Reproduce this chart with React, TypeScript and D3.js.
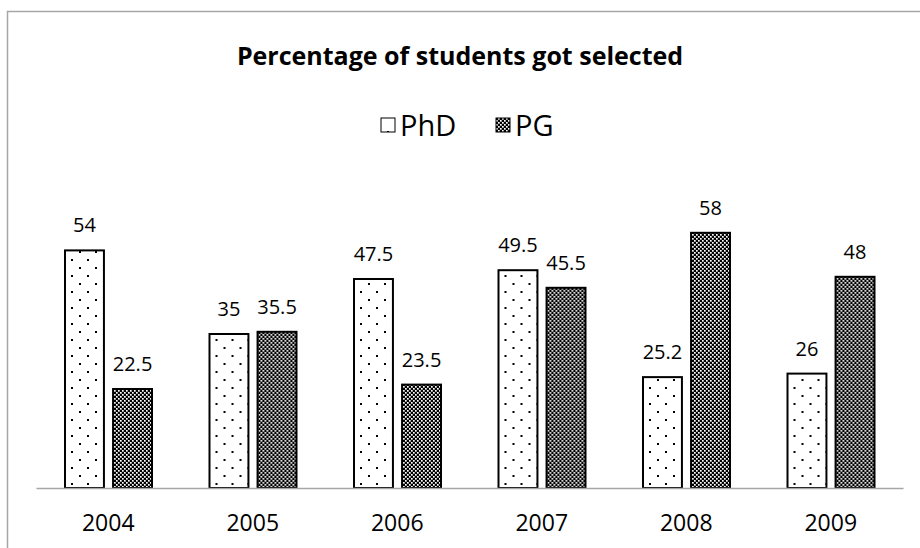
import { useEffect, useRef } from 'react';
import * as d3 from 'd3';

const years = ['2004', '2005', '2006', '2007', '2008', '2009'];
const phd = [54, 35, 47.5, 49.5, 25.2, 26];
const pg = [22.5, 35.5, 23.5, 45.5, 58, 48];
const seriesNames = ['PhD', 'PG'];

const App = () => {
	const ref = useRef<SVGSVGElement>(null);

	useEffect(() => {
		const width = 920,
			height = 548;
		const margin = { top: 180, right: 17, bottom: 60, left: 36 };
		const font = 'Open Sans, sans-serif';

		const svg = d3.select(ref.current).attr('width', width).attr('height', height);
		svg.selectAll('*').remove();

		const defs = svg.append('defs');
		// dotted pattern for PhD
		const dots = defs
			.append('pattern')
			.attr('id', 'dots')
			.attr('patternUnits', 'userSpaceOnUse')
			.attr('width', 16)
			.attr('height', 16);
		dots.append('rect').attr('width', 16).attr('height', 16).attr('fill', '#fff');
		dots.append('rect').attr('x', 3).attr('y', 3).attr('width', 2).attr('height', 2).attr('fill', '#000');
		dots.append('rect').attr('x', 11).attr('y', 11).attr('width', 2).attr('height', 2).attr('fill', '#000');
		// checker pattern for PG
		const checks = defs
			.append('pattern')
			.attr('id', 'checks')
			.attr('patternUnits', 'userSpaceOnUse')
			.attr('width', 4)
			.attr('height', 4);
		checks.append('rect').attr('width', 4).attr('height', 4).attr('fill', '#000');
		checks.append('rect').attr('width', 1.7).attr('height', 1.7).attr('fill', '#fff');
		checks.append('rect').attr('x', 2).attr('y', 2).attr('width', 1.7).attr('height', 1.7).attr('fill', '#fff');

		// chart frame
		svg
			.append('rect')
			.attr('x', 7.5)
			.attr('y', 11.5)
			.attr('width', 930)
			.attr('height', 560)
			.attr('fill', '#fff')
			.attr('stroke', '#a6a6a6')
			.attr('stroke-width', 1.5);

		const x0 = d3
			.scaleBand()
			.domain(years)
			.range([margin.left, width - margin.right]);
		const x1 = d3.scaleBand().domain(seriesNames).range([29, 116]).paddingInner(0.19);
		const y = d3
			.scaleLinear()
			.domain([0, 70])
			.range([height - margin.bottom, margin.top]);

		const fills = ['url(#dots)', 'url(#checks)'];
		const data = years.map((yr, i) => ({ yr, vals: [phd[i], pg[i]] }));

		const groups = svg
			.append('g')
			.selectAll('g')
			.data(data)
			.join('g')
			.attr('transform', (d) => `translate(${x0(d.yr)}, 0)`);

		groups
			.selectAll('rect')
			.data((d) => d.vals.map((v, j) => ({ v, s: seriesNames[j], j })))
			.join('rect')
			.attr('x', (d) => x1(d.s)!)
			.attr('width', x1.bandwidth())
			.attr('y', (d) => y(d.v))
			.attr('height', (d) => y(0) - y(d.v))
			.attr('fill', (d) => fills[d.j])
			.attr('stroke', '#000')
			.attr('stroke-width', 2);

		groups
			.selectAll('text')
			.data((d) => d.vals.map((v, j) => ({ v, s: seriesNames[j] })))
			.join('text')
			.attr('x', (d) => x1(d.s)! + x1.bandwidth() / 2)
			.attr('y', (d) => y(d.v) - 18)
			.attr('text-anchor', 'middle')
			.attr('font-family', font)
			.attr('font-size', 20)
			.attr('fill', '#000')
			.text((d) => String(d.v));

		// x axis
		const xAxis = svg
			.append('g')
			.attr('transform', `translate(0, ${y(0)})`)
			.call(d3.axisBottom(x0).tickSize(0).tickPadding(27));
		xAxis.select('.domain').attr('stroke', '#a6a6a6').attr('stroke-width', 1.5);
		xAxis
			.selectAll('text')
			.attr('font-family', font)
			.attr('font-size', 23)
			.attr('fill', '#000');

		// title
		svg
			.append('text')
			.attr('x', 460)
			.attr('y', 65)
			.attr('text-anchor', 'middle')
			.attr('font-family', font)
			.attr('font-weight', 'bold')
			.attr('font-size', 25)
			.attr('fill', '#000')
			.text('Percentage of students got selected');

		// legend
		const legend = svg.append('g');
		const legendX = [381, 496];
		seriesNames.forEach((name, i) => {
			legend
				.append('rect')
				.attr('x', legendX[i])
				.attr('y', 118)
				.attr('width', 14)
				.attr('height', 14)
				.attr('fill', fills[i])
				.attr('stroke', '#000')
				.attr('stroke-width', 1);
			legend
				.append('text')
				.attr('x', legendX[i] + 19)
				.attr('y', 136)
				.attr('font-family', font)
				.attr('font-size', 29)
				.attr('fill', '#000')
				.text(name);
		});
	}, []);

	return <svg ref={ref} style={{ position: 'absolute', left: 0, top: 0 }} />;
};

export default App;
